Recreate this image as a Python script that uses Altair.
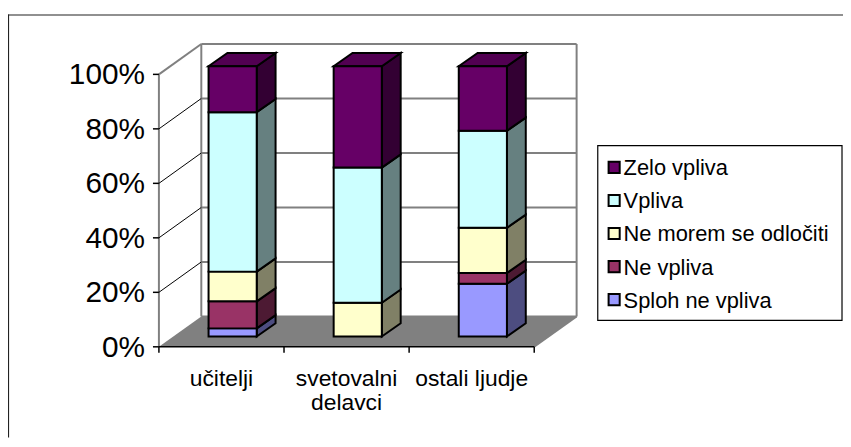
import altair as alt
import pandas as pd

# ---------------- data ----------------
categories = ["učitelji", "svetovalni delavci", "ostali ljudje"]
category_labels = ["učitelji", "svetovalni\ndelavci", "ostali ljudje"]
series = ["Sploh ne vpliva", "Ne vpliva", "Ne morem se odločiti", "Vpliva", "Zelo vpliva"]
sploh_ne_vpliva = [3.0, 0.0, 19.5]
ne_vpliva = [10.0, 0.0, 4.0]
ne_morem = [11.0, 12.5, 16.7]
vpliva = [59.0, 50.0, 35.9]
zelo_vpliva = [17.0, 37.5, 23.9]
series_values = [sploh_ne_vpliva, ne_vpliva, ne_morem, vpliva, zelo_vpliva]
y_ticks = [0, 20, 40, 60, 80, 100]

front_colors = ["#9999FF", "#993366", "#FFFFCC", "#CCFFFF", "#660066"]
side_colors = ["#4D4D80", "#4D1A33", "#808066", "#668080", "#330033"]
top_colors = ["#7373BF", "#73264D", "#BFBF99", "#99BFBF", "#520052"]

# ---------------- layout (pixels -> data units) ----------------
VIEW_LEFT, VIEW_TOP, W, H = 8, 8, 841, 431
X0, KX = 160.0, 126.0      # front-left corner pixel x, pixels per category
Y0, KY = 347.7, 2.744      # front 0% pixel y, pixels per percent


def ux(p):
    return (p - X0) / KX


def uy(p):
    return (Y0 - p) / KY


XD = [ux(VIEW_LEFT), ux(VIEW_LEFT + W)]
YD = [uy(VIEW_TOP + H), uy(VIEW_TOP)]
DX, DY = 42.7 / KX, 30.6 / KY          # full depth of the box
BAR_L, BAR_W = 50.0 / KX, 48.5 / KX    # bar front face inside category
BASE = 10.4 / KY                       # bar front face lifted by depth
BAR_K = 0.992
GX, GY = 19.0 / KX, 13.3 / KY          # bar depth
NCAT = len(categories)

xs = alt.Scale(domain=XD, nice=False, zero=False)
ys = alt.Scale(domain=YD, nice=False, zero=False)


def X(f="x"):
    return alt.X(f"{f}:Q", scale=xs, axis=None)


def Y(f="y"):
    return alt.Y(f"{f}:Q", scale=ys, axis=None, stack=None)


def X2(f="x2"):
    return alt.X2(f"{f}:Q")


def Y2(f="y2"):
    return alt.Y2(f"{f}:Q")


FONT = "Liberation Sans"

# ---------------- frame ----------------
frame_df = pd.DataFrame([
    dict(x=ux(8), y=uy(13.5), x2=ux(VIEW_LEFT + W), y2=uy(13.5)),
    dict(x=ux(8.5), y=uy(13), x2=ux(8.5), y2=uy(VIEW_TOP + H)),
])
frame = alt.Chart(frame_df).mark_rule(color="#222222", strokeWidth=1.2).encode(
    x=X(), y=Y(), x2=X2(), y2=Y2())

# ---------------- floor ----------------
floor_df = pd.DataFrame([
    dict(x=0, y=0, y2=0),
    dict(x=DX, y=0, y2=DY),
    dict(x=NCAT, y=0, y2=DY),
    dict(x=NCAT + DX, y=DY, y2=DY),
])
floor = alt.Chart(floor_df).mark_area(color="#808080", opacity=1).encode(
    x=X(), y=Y(), y2=Y2())

# ---------------- walls ----------------
gray_lines = []
for v in y_ticks:
    gray_lines.append(dict(x=DX, y=v + DY, x2=NCAT + DX, y2=v + DY))
gray_lines.append(dict(x=DX, y=DY, x2=DX, y2=100 + DY))
gray_lines.append(dict(x=NCAT + DX, y=DY, x2=NCAT + DX, y2=100 + DY))
gray_lines.append(dict(x=0, y=100, x2=DX, y2=100 + DY))
gray_lines.append(dict(x=0, y=0, x2=0, y2=100))
gray_lines.append(dict(x=NCAT, y=0, x2=NCAT + DX, y2=DY))
walls = alt.Chart(pd.DataFrame(gray_lines)).mark_rule(color="#808080", strokeWidth=2).encode(
    x=X(), y=Y(), x2=X2(), y2=Y2())

left_lines = [dict(x=0, y=v, x2=DX, y2=v + DY) for v in y_ticks[1:-1]]
left_wall = alt.Chart(pd.DataFrame(left_lines)).mark_rule(color="#000000", strokeWidth=1).encode(
    x=X(), y=Y(), x2=X2(), y2=Y2())

# ---------------- axes ----------------
axis_rows = [dict(x=0, y=0, x2=NCAT, y2=0)]
for i in range(NCAT + 1):
    axis_rows.append(dict(x=i, y=0, x2=i, y2=-6 / KY))
for v in y_ticks:
    axis_rows.append(dict(x=-6 / KX, y=v, x2=0, y2=v))
axes = alt.Chart(pd.DataFrame(axis_rows)).mark_rule(color="#000000", strokeWidth=1.5).encode(
    x=X(), y=Y(), x2=X2(), y2=Y2())

ylab_df = pd.DataFrame(dict(x=[0] * len(y_ticks), y=y_ticks, t=[f"{v}%" for v in y_ticks]))
ylabels = alt.Chart(ylab_df).mark_text(
    align="right", baseline="middle", dx=-14, dy=1, font=FONT, fontSize=30, color="#000000"
).encode(x=X(), y=Y(), text="t:N")

xlab_df = pd.DataFrame(dict(x=[i + 0.5 for i in range(NCAT)], y=[0] * NCAT, t=category_labels))
xlabels = alt.Chart(xlab_df).mark_text(
    align="center", baseline="alphabetic", dy=39, font=FONT, fontSize=23, lineBreak="\n",
    lineHeight=25, color="#000000"
).encode(x=X(), y=Y(), text="t:N")

# ---------------- bars ----------------
fronts, sides, tops = [], [], []
for i in range(NCAT):
    lo = 0.0
    xl = i + BAR_L
    xr = xl + BAR_W
    last = None
    for s, vals in enumerate(series_values):
        v = vals[i]
        if v <= 0:
            continue
        y0 = BASE + lo * BAR_K
        y1 = BASE + (lo + v) * BAR_K
        fronts.append(dict(x=xl, x2=xr, y=y0, y2=y1, fill=front_colors[s]))
        key = f"{i}-{s}"
        sides.append(dict(k=key, x=xr, y=y0, y2=y1, fill=side_colors[s]))
        sides.append(dict(k=key, x=xr + GX, y=y0 + GY, y2=y1 + GY, fill=side_colors[s]))
        lo += v
        last = (s, y1)
    s, yt = last
    key = f"{i}"
    tops += [
        dict(k=key, x=xl, y=yt, y2=yt, fill=top_colors[s]),
        dict(k=key, x=xl + GX, y=yt, y2=yt + GY, fill=top_colors[s]),
        dict(k=key, x=xr, y=yt, y2=yt + GY, fill=top_colors[s]),
        dict(k=key, x=xr + GX, y=yt + GY, y2=yt + GY, fill=top_colors[s]),
    ]

side_layer = alt.Chart(pd.DataFrame(sides)).mark_area(
    stroke="#000000", strokeWidth=2, strokeJoin="miter", opacity=1
).encode(x=X(), y=Y(), y2=Y2(), color=alt.Color("fill:N", scale=None), detail="k:N")

top_layer = alt.Chart(pd.DataFrame(tops)).mark_area(
    stroke="#000000", strokeWidth=2, strokeJoin="miter", opacity=1
).encode(x=X(), y=Y(), y2=Y2(), color=alt.Color("fill:N", scale=None), detail="k:N")

front_layer = alt.Chart(pd.DataFrame(fronts)).mark_rect(
    stroke="#000000", strokeWidth=2, opacity=1
).encode(x=X(), x2=X2(), y=Y(), y2=Y2(), color=alt.Color("fill:N", scale=None))

# ---------------- legend ----------------
box_df = pd.DataFrame([dict(x=ux(602), x2=ux(848), y=uy(321), y2=uy(145))])
legend_box = alt.Chart(box_df).mark_rect(
    fill="#FFFFFF", stroke="#000000", strokeWidth=1.2
).encode(x=X(), x2=X2(), y=Y(), y2=Y2())

leg_names = series[::-1]
leg_cols = front_colors[::-1]
leg_rows = [dict(x=ux(618.5), y=uy(167 + k * 33.3), t=name, fill=leg_cols[k])
            for k, name in enumerate(leg_names)]
leg_df = pd.DataFrame(leg_rows)
legend_sym = alt.Chart(leg_df).mark_square(
    size=125, filled=True, stroke="#000000", strokeWidth=2, opacity=1
).encode(x=X(), y=Y(), color=alt.Color("fill:N", scale=None))
legend_txt = alt.Chart(leg_df).mark_text(
    align="left", baseline="middle", dx=9.5, dy=1, font=FONT, fontSize=22, color="#000000"
).encode(x=X(), y=Y(), text="t:N")

chart = alt.layer(
    frame, floor, walls, left_wall, axes, ylabels, xlabels,
    side_layer, top_layer, front_layer,
    legend_box, legend_sym, legend_txt,
).properties(
    width=W, height=H, padding=0, autosize=alt.AutoSizeParams(type="none"),
    background="#FFFFFF",
).configure_view(stroke=None)

chart.save("out.html", embed_options={"renderer": "svg", "actions": False})
